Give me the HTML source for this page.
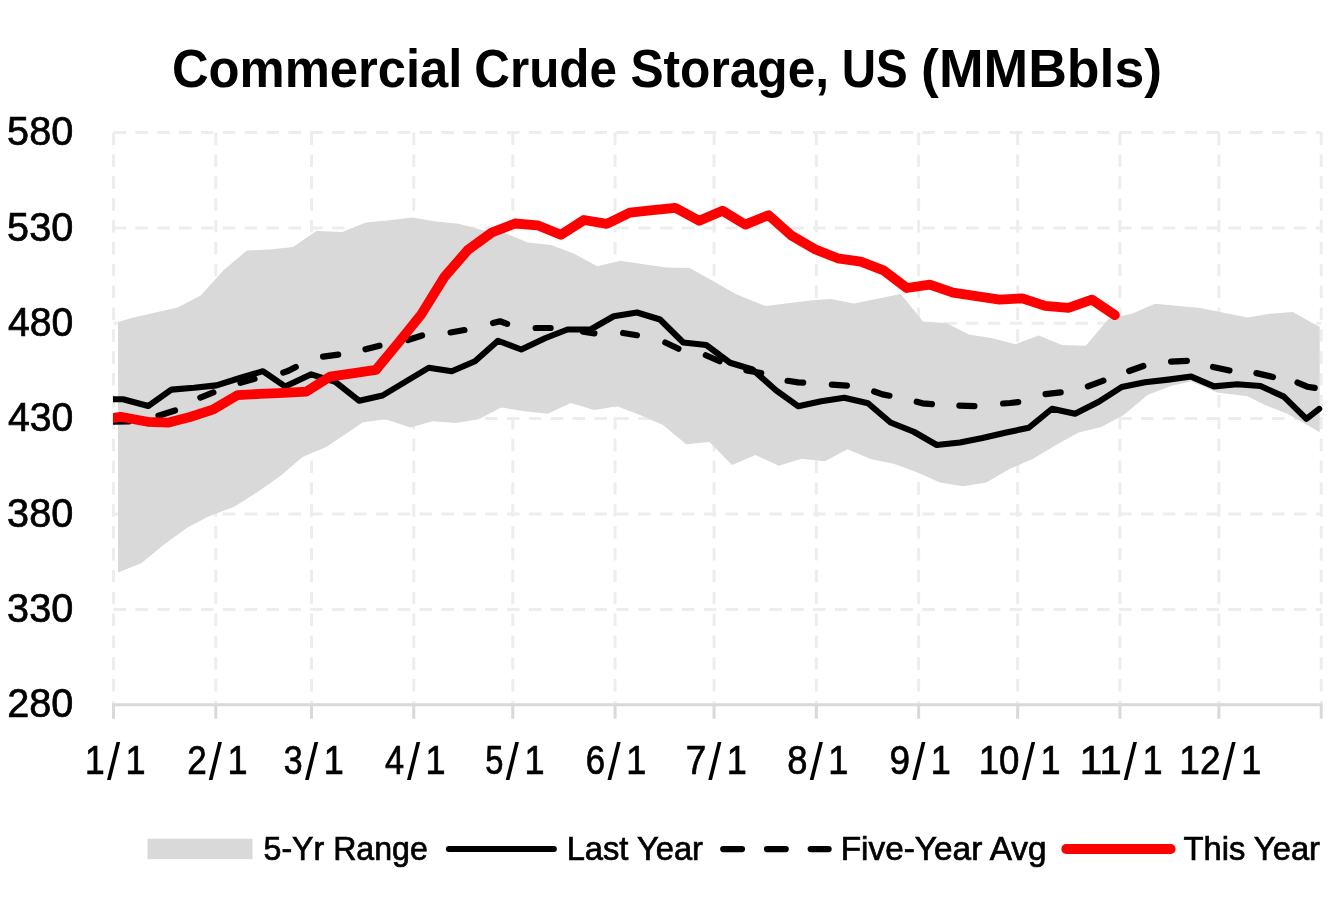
<!DOCTYPE html>
<html lang="en">
<head>
<meta charset="utf-8">
<title>Commercial Crude Storage, US (MMBbls)</title>
<style>
html,body{margin:0;padding:0;background:#fff;}
body{width:1333px;height:900px;overflow:hidden;}
svg{display:block;}
text{font-family:"Liberation Sans",sans-serif;fill:#000;}
.t{font-weight:bold;font-size:53px;}
.ax{font-size:40px;stroke:#000;stroke-width:0.7px;}
.sl{font-size:51.7px;stroke:none;}
.lg{font-size:33px;stroke:#000;stroke-width:0.7px;}
</style>
</head>
<body>
<svg width="1333" height="900" viewBox="0 0 1333 900">
<rect width="1333" height="900" fill="#fff"/>
<defs><clipPath id="plot"><rect x="113.1" y="100" width="1211" height="620"/></clipPath></defs>

<g stroke="#EDEDED" stroke-width="3" stroke-dasharray="12.5 9.36" fill="none">
<line x1="113.50" y1="132.50" x2="1321.20" y2="132.50"/>
<line x1="113.50" y1="227.88" x2="1321.20" y2="227.88"/>
<line x1="113.50" y1="323.25" x2="1321.20" y2="323.25"/>
<line x1="113.50" y1="418.62" x2="1321.20" y2="418.62"/>
<line x1="113.50" y1="514.00" x2="1321.20" y2="514.00"/>
<line x1="113.50" y1="609.38" x2="1321.20" y2="609.38"/>
<line x1="113.50" y1="132.60" x2="113.50" y2="704.75"/>
<line x1="215.79" y1="132.60" x2="215.79" y2="704.75"/>
<line x1="311.48" y1="132.60" x2="311.48" y2="704.75"/>
<line x1="413.78" y1="132.60" x2="413.78" y2="704.75"/>
<line x1="512.77" y1="132.60" x2="512.77" y2="704.75"/>
<line x1="615.06" y1="132.60" x2="615.06" y2="704.75"/>
<line x1="714.05" y1="132.60" x2="714.05" y2="704.75"/>
<line x1="816.34" y1="132.60" x2="816.34" y2="704.75"/>
<line x1="918.63" y1="132.60" x2="918.63" y2="704.75"/>
<line x1="1017.63" y1="132.60" x2="1017.63" y2="704.75"/>
<line x1="1119.92" y1="132.60" x2="1119.92" y2="704.75"/>
<line x1="1218.91" y1="132.60" x2="1218.91" y2="704.75"/>
<line x1="1321.20" y1="132.60" x2="1321.20" y2="704.75"/>
</g>
<polygon points="118.00,322.10 131.40,318.00 177.60,307.50 200.70,295.50 223.80,270.00 246.90,250.50 270.00,249.50 293.10,247.10 316.40,231.00 342.10,232.00 366.00,222.40 389.20,220.30 412.40,217.60 435.70,221.60 458.60,223.75 481.70,230.00 504.80,233.00 527.90,242.50 551.10,245.00 574.20,253.75 597.30,266.25 620.40,260.75 643.50,264.25 666.60,267.50 689.70,268.00 712.50,280.80 735.80,294.10 765.80,306.10 789.90,303.00 814.90,300.00 830.70,299.10 854.00,303.60 900.70,294.10 923.25,321.75 946.25,323.00 968.75,334.50 991.25,338.00 1015.50,344.25 1038.75,335.50 1062.00,345.00 1085.75,345.75 1108.75,318.75 1132.00,313.75 1155.00,303.75 1200.00,308.00 1247.50,317.50 1270.00,313.75 1292.70,312.10 1317.80,326.00 1319.70,326.60 1319.70,432.20 1310.00,426.50 1287.50,413.80 1265.00,405.00 1247.50,396.25 1217.50,392.50 1191.25,381.25 1170.00,386.25 1147.50,395.00 1123.75,415.00 1101.25,427.00 1078.75,432.50 1056.00,445.00 1033.00,458.75 1010.00,468.75 986.25,482.50 963.00,486.25 940.00,482.50 917.50,472.50 893.75,463.75 871.25,459.25 847.50,449.25 825.00,461.25 801.75,458.75 778.75,465.75 755.50,455.00 732.00,465.00 709.50,442.00 686.25,444.25 663.00,425.00 640.00,415.00 617.00,406.25 594.25,410.00 570.75,403.00 547.50,413.75 524.25,411.25 501.25,407.50 478.50,419.30 456.00,423.00 432.80,421.20 410.30,427.50 385.50,419.30 363.00,422.30 326.25,447.00 302.50,457.00 280.00,476.25 257.50,492.00 233.75,507.00 210.00,515.75 187.50,527.50 165.00,543.75 141.25,563.25 118.00,572.60" fill="#D9D9D9"/>
<g stroke="#D9D9D9" stroke-width="3" fill="none">
<line x1="112.00" y1="704.75" x2="1322.70" y2="704.75"/>
<line x1="113.50" y1="704.75" x2="113.50" y2="718.75"/>
<line x1="215.79" y1="704.75" x2="215.79" y2="718.75"/>
<line x1="311.48" y1="704.75" x2="311.48" y2="718.75"/>
<line x1="413.78" y1="704.75" x2="413.78" y2="718.75"/>
<line x1="512.77" y1="704.75" x2="512.77" y2="718.75"/>
<line x1="615.06" y1="704.75" x2="615.06" y2="718.75"/>
<line x1="714.05" y1="704.75" x2="714.05" y2="718.75"/>
<line x1="816.34" y1="704.75" x2="816.34" y2="718.75"/>
<line x1="918.63" y1="704.75" x2="918.63" y2="718.75"/>
<line x1="1017.63" y1="704.75" x2="1017.63" y2="718.75"/>
<line x1="1119.92" y1="704.75" x2="1119.92" y2="718.75"/>
<line x1="1218.91" y1="704.75" x2="1218.91" y2="718.75"/>
<line x1="1321.20" y1="704.75" x2="1321.20" y2="718.75"/>
</g>
<g clip-path="url(#plot)" fill="none" stroke-linejoin="round" stroke-linecap="round">
<polyline points="113.30,399.20 123.00,399.30 148.30,406.00 171.50,389.60 194.00,387.80 216.50,385.40 240.00,378.00 263.00,371.20 285.20,386.40 311.25,374.30 335.30,381.80 359.30,400.80 382.50,395.50 406.25,381.25 428.75,367.75 451.75,371.25 475.00,361.25 498.00,340.75 521.25,349.50 545.00,338.25 567.50,329.50 590.50,329.50 613.75,316.25 637.00,312.50 660.00,319.50 683.25,342.50 706.25,345.00 730.00,362.75 752.50,369.50 776.25,390.50 798.25,406.25 821.25,401.25 844.25,397.75 868.00,403.25 890.50,422.50 913.75,431.75 936.75,445.00 960.00,442.50 982.50,438.00 1006.25,432.50 1028.75,427.75 1052.00,408.75 1075.00,413.75 1098.75,401.75 1121.75,387.00 1145.00,382.20 1168.30,379.60 1191.20,376.60 1214.00,386.40 1237.20,384.20 1260.50,386.00 1283.80,396.60 1306.40,418.90 1319.20,408.90" stroke="#000" stroke-width="6.1"/>
<g stroke="#000" stroke-width="6.2">
<polyline points="113.10,421.73 128.90,421.37"/>
<polyline points="158.46,415.68 175.04,410.52"/>
<polyline points="200.38,397.60 213.37,392.40"/>
<polyline points="240.48,382.89 254.52,378.86"/>
<polyline points="283.23,372.60 288.50,370.80 295.76,366.95"/>
<polyline points="323.07,356.60 338.18,354.65"/>
<polyline points="365.51,349.25 379.49,345.75"/>
<polyline points="407.95,340.04 422.05,335.46"/>
<polyline points="450.55,332.47 464.45,330.03"/>
<polyline points="493.01,323.00 500.00,321.25 507.10,323.91"/>
<polyline points="535.60,328.00 550.65,328.00"/>
<polyline points="583.07,331.69 594.43,333.31"/>
<polyline points="623.06,333.00 636.94,335.25"/>
<polyline points="665.31,342.56 678.44,348.69"/>
<polyline points="705.84,355.24 719.66,361.26"/>
<polyline points="746.36,370.51 761.24,372.99"/>
<polyline points="787.56,380.78 798.00,382.40 803.20,382.65"/>
<polyline points="831.84,384.68 846.91,385.57"/>
<polyline points="874.18,391.52 882.50,394.40 889.45,395.69"/>
<polyline points="916.74,401.72 922.50,403.30 931.91,404.20"/>
<polyline points="959.35,405.61 974.40,406.14"/>
<polyline points="1003.09,403.48 1010.00,403.00 1018.17,402.13"/>
<polyline points="1045.58,394.14 1060.67,392.36"/>
<polyline points="1087.90,386.41 1103.35,380.59"/>
<polyline points="1129.18,370.98 1143.32,366.02"/>
<polyline points="1171.10,361.61 1186.90,360.89"/>
<polyline points="1213.03,366.92 1229.47,370.58"/>
<polyline points="1256.42,373.11 1272.98,376.99"/>
<polyline points="1297.55,382.53 1307.20,386.70 1314.74,387.91"/>
</g>
<polyline points="113.30,418.00 120.50,416.80 147.50,421.80 167.80,422.70 190.00,417.00 213.50,409.30 237.50,395.10 260.00,393.90 284.00,392.80 306.30,391.60 330.00,376.70 352.50,373.30 375.90,369.90 399.00,342.00 421.20,314.50 444.60,276.70 467.80,250.00 491.80,232.50 515.00,223.50 537.50,225.30 560.80,234.80 584.00,220.00 606.80,223.80 629.80,212.70 653.00,210.20 675.20,207.80 699.20,220.80 722.50,210.80 745.30,224.60 768.50,215.20 791.80,235.80 815.00,249.30 837.70,258.30 860.80,261.70 883.50,270.30 906.80,288.00 929.80,284.60 953.00,292.60 976.30,296.10 999.50,299.60 1022.20,298.30 1045.20,305.90 1068.40,307.80 1091.90,299.60 1114.90,315.10" stroke="#FF0000" stroke-width="9.8"/>
</g>
<text class="t"><tspan x="171.92" y="87.00" textLength="290.53" lengthAdjust="spacingAndGlyphs">Commercial</tspan> <tspan x="474.25" y="87.00" textLength="142.70" lengthAdjust="spacingAndGlyphs">Crude</tspan> <tspan x="630.42" y="87.00" textLength="198.71" lengthAdjust="spacingAndGlyphs">Storage,</tspan> <tspan x="841.79" y="87.00" textLength="66.03" lengthAdjust="spacingAndGlyphs">US</tspan> <tspan x="921.11" y="87.00" textLength="240.90" lengthAdjust="spacingAndGlyphs">(MMBbls)</tspan></text>
<text class="ax"><tspan x="7.11" y="145.20" textLength="66.15" lengthAdjust="spacingAndGlyphs">580</tspan></text>
<text class="ax"><tspan x="7.11" y="240.57" textLength="66.15" lengthAdjust="spacingAndGlyphs">530</tspan></text>
<text class="ax"><tspan x="7.93" y="335.95" textLength="65.32" lengthAdjust="spacingAndGlyphs">480</tspan></text>
<text class="ax"><tspan x="7.93" y="431.32" textLength="65.32" lengthAdjust="spacingAndGlyphs">430</tspan></text>
<text class="ax"><tspan x="7.10" y="526.70" textLength="66.16" lengthAdjust="spacingAndGlyphs">380</tspan></text>
<text class="ax"><tspan x="7.10" y="622.08" textLength="66.16" lengthAdjust="spacingAndGlyphs">330</tspan></text>
<text class="ax"><tspan x="7.13" y="717.45" textLength="66.13" lengthAdjust="spacingAndGlyphs">280</tspan></text>
<text class="ax"><tspan x="85.11" y="773.7" textLength="19.71" lengthAdjust="spacingAndGlyphs">1</tspan><tspan class="sl" x="106.90" y="779.5" textLength="13.2" lengthAdjust="spacingAndGlyphs">/</tspan><tspan x="125.57" y="773.7" textLength="20.08" lengthAdjust="spacingAndGlyphs">1</tspan></text>
<text class="ax"><tspan x="187.24" y="773.7" textLength="19.52" lengthAdjust="spacingAndGlyphs">2</tspan><tspan class="sl" x="208.80" y="779.5" textLength="13.2" lengthAdjust="spacingAndGlyphs">/</tspan><tspan x="227.47" y="773.7" textLength="20.08" lengthAdjust="spacingAndGlyphs">1</tspan></text>
<text class="ax"><tspan x="283.80" y="773.7" textLength="18.89" lengthAdjust="spacingAndGlyphs">3</tspan><tspan class="sl" x="305.00" y="779.5" textLength="13.2" lengthAdjust="spacingAndGlyphs">/</tspan><tspan x="323.67" y="773.7" textLength="20.08" lengthAdjust="spacingAndGlyphs">1</tspan></text>
<text class="ax"><tspan x="385.01" y="773.7" textLength="19.09" lengthAdjust="spacingAndGlyphs">4</tspan><tspan class="sl" x="406.90" y="779.5" textLength="13.2" lengthAdjust="spacingAndGlyphs">/</tspan><tspan x="425.57" y="773.7" textLength="20.08" lengthAdjust="spacingAndGlyphs">1</tspan></text>
<text class="ax"><tspan x="485.18" y="773.7" textLength="18.21" lengthAdjust="spacingAndGlyphs">5</tspan><tspan class="sl" x="505.80" y="779.5" textLength="13.2" lengthAdjust="spacingAndGlyphs">/</tspan><tspan x="524.47" y="773.7" textLength="20.08" lengthAdjust="spacingAndGlyphs">1</tspan></text>
<text class="ax"><tspan x="585.83" y="773.7" textLength="19.39" lengthAdjust="spacingAndGlyphs">6</tspan><tspan class="sl" x="607.50" y="779.5" textLength="13.2" lengthAdjust="spacingAndGlyphs">/</tspan><tspan x="626.17" y="773.7" textLength="20.08" lengthAdjust="spacingAndGlyphs">1</tspan></text>
<text class="ax"><tspan x="685.73" y="773.7" textLength="20.50" lengthAdjust="spacingAndGlyphs">7</tspan><tspan class="sl" x="708.20" y="779.5" textLength="13.2" lengthAdjust="spacingAndGlyphs">/</tspan><tspan x="726.87" y="773.7" textLength="20.08" lengthAdjust="spacingAndGlyphs">1</tspan></text>
<text class="ax"><tspan x="787.24" y="773.7" textLength="20.22" lengthAdjust="spacingAndGlyphs">8</tspan><tspan class="sl" x="809.70" y="779.5" textLength="13.2" lengthAdjust="spacingAndGlyphs">/</tspan><tspan x="828.37" y="773.7" textLength="20.08" lengthAdjust="spacingAndGlyphs">1</tspan></text>
<text class="ax"><tspan x="889.59" y="773.7" textLength="20.53" lengthAdjust="spacingAndGlyphs">9</tspan><tspan class="sl" x="912.20" y="779.5" textLength="13.2" lengthAdjust="spacingAndGlyphs">/</tspan><tspan x="930.87" y="773.7" textLength="20.08" lengthAdjust="spacingAndGlyphs">1</tspan></text>
<text class="ax"><tspan x="978.73" y="773.7" textLength="40.78" lengthAdjust="spacingAndGlyphs">10</tspan><tspan class="sl" x="1021.90" y="779.5" textLength="13.2" lengthAdjust="spacingAndGlyphs">/</tspan><tspan x="1040.57" y="773.7" textLength="20.08" lengthAdjust="spacingAndGlyphs">1</tspan></text>
<text class="ax"><tspan x="1079.86" y="773.7" textLength="41.95" lengthAdjust="spacingAndGlyphs">11</tspan><tspan class="sl" x="1123.80" y="779.5" textLength="13.2" lengthAdjust="spacingAndGlyphs">/</tspan><tspan x="1142.47" y="773.7" textLength="20.08" lengthAdjust="spacingAndGlyphs">1</tspan></text>
<text class="ax"><tspan x="1179.30" y="773.7" textLength="41.24" lengthAdjust="spacingAndGlyphs">12</tspan><tspan class="sl" x="1222.50" y="779.5" textLength="13.2" lengthAdjust="spacingAndGlyphs">/</tspan><tspan x="1241.17" y="773.7" textLength="20.08" lengthAdjust="spacingAndGlyphs">1</tspan></text>
<rect x="147.5" y="838.7" width="105" height="20.4" fill="#D9D9D9"/>
<text class="lg"><tspan x="263.56" y="860.00" textLength="164.26" lengthAdjust="spacingAndGlyphs">5-Yr Range</tspan></text>
<line x1="448.95" y1="849" x2="553.85" y2="849" stroke="#000" stroke-width="6.1" stroke-linecap="round"/>
<text class="lg"><tspan x="566.64" y="860.00" textLength="136.39" lengthAdjust="spacingAndGlyphs">Last Year</tspan></text>
<g stroke="#000" stroke-width="6.2" stroke-linecap="round"><line x1="723.2" y1="849.05" x2="742" y2="849.05"/><line x1="767" y1="849.05" x2="785.75" y2="849.05"/><line x1="810.7" y1="849.05" x2="828.6" y2="849.05"/></g>
<text class="lg"><tspan x="840.75" y="860.00" textLength="205.77" lengthAdjust="spacingAndGlyphs">Five-Year Avg</tspan></text>
<line x1="1066.2" y1="849" x2="1170.7" y2="849" stroke="#FF0000" stroke-width="9.8" stroke-linecap="round"/>
<text class="lg"><tspan x="1183.54" y="860.00" textLength="136.47" lengthAdjust="spacingAndGlyphs">This Year</tspan></text>
</svg>
</body>
</html>
